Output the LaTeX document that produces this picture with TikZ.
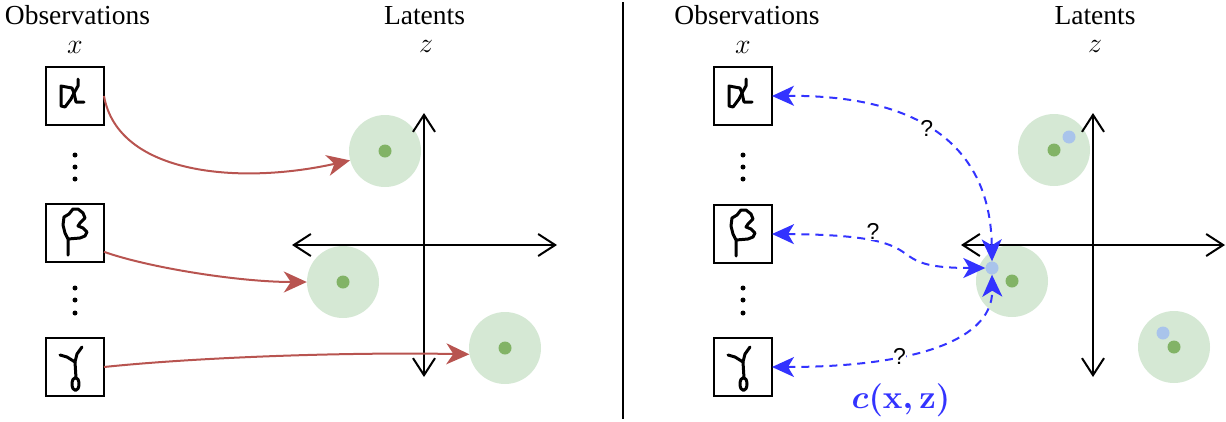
\RequirePackage{fix-cm}
\documentclass[tikz,border=0pt]{standalone}
\usepackage{amsmath}
\usepackage[no-math]{fontspec}
\setmainfont{Liberation Serif}
\newfontfamily\qfont{Liberation Sans}
\usetikzlibrary{arrows.meta}
\definecolor{lgreen}{HTML}{D5E8D4}
\definecolor{dgreen}{HTML}{82B366}
\definecolor{lblue}{HTML}{A9C4EB}
\definecolor{redarr}{HTML}{B85450}
\definecolor{bluearr}{HTML}{3333FF}
\tikzset{
  title/.style={font=\fontsize{27.5}{32}\selectfont, anchor=base, inner sep=0pt},
  mathlab/.style={font=\fontsize{28}{32}\selectfont, anchor=base, inner sep=0pt},
  obsbox/.style={draw, line width=2pt, minimum size=58pt, inner sep=0pt, outer sep=0pt},
  blob/.style={circle, fill=lgreen, minimum size=72pt, inner sep=0pt},
  mu/.style={circle, fill=dgreen, minimum size=13pt, inner sep=0pt},
  smp/.style={circle, fill=lblue, minimum size=13pt, inner sep=0pt},
  vdot/.style={circle, fill=black, minimum size=5pt, inner sep=0pt},
  axisline/.style={line width=2pt, {Straight Barb[length=17pt,width=22pt]}-{Straight Barb[length=17pt,width=22pt]}},
  redarrow/.style={draw=redarr, line width=2pt, -{Stealth[length=23pt,width=21pt,inset=7pt]}, color=redarr},
  bluearrow/.style={draw=bluearr, color=bluearr, line width=2pt, dash pattern=on 8pt off 6pt,
     {Stealth[length=22pt,width=20pt,inset=6pt]}-{Stealth[length=22pt,width=20pt,inset=6pt]}},
  qlab/.style={font=\qfont\fontsize{23}{26}\selectfont, fill=white, inner sep=0.5pt, text=black},
  glyph/.style={line width=3pt, line cap=round, line join=round},
  alphaglyph/.pic={
    \draw[glyph] (-3,-8)--(-14,-10)--(-14,10)--(-10,11)--(-4,3)--(-1,-3)--(3,-10)--(3,-17);
    \draw[glyph] (-1,-3)--(1,6)--(9,6);
    \draw[glyph] (-3,-8)--(-1,-3);
  },
  betaglyph/.pic={
    \draw[glyph] (-7,22)--(-7,6)--(-10,0)--(-12,-8)--(-11,-16)--(-6,-19)--(-2,-24)--(3,-24)--(8,-20)--(10,-15)--(5,-10)--(3,-7)--(8,-5)--(12,-1)--(10,3)--(5,5)--(-7,6);
  },
  gammaglyph/.pic={
    \draw[glyph] (-15,-12)--(-8,-10)--(0,-5);
    \draw[glyph] (7,-20)--(2,-13)--(0,-5)--(1,11);
    \draw[glyph] (0.5,17) ellipse [x radius=3.5pt, y radius=6.5pt];
  },
}
\begin{document}
\begin{tikzpicture}[x=1pt,y=-1pt]
\useasboundingbox (0,0) rectangle (1226,421);

% ---------------- left panel ----------------
\node[title] (obsL) at (77.5,24) {Observations};
\node[title] (latL) at (424.5,24) {Latents};
\node[mathlab] (xL) at (75,53) {$x$};
\node[mathlab] (zL) at (426,52) {$z$};

\node[obsbox] (b1L) at (75,96) {};
\node[obsbox] (b2L) at (75,233) {};
\node[obsbox] (b3L) at (75,367) {};
\pic at (b1L.center) {alphaglyph};
\pic at (b2L.center) {betaglyph};
\pic at (b3L.center) {gammaglyph};

\node[vdot] (d1L) at (75,155) {};
\node[vdot] (d2L) at (75,167) {};
\node[vdot] (d3L) at (75,179) {};
\node[vdot] (d4L) at (75,288) {};
\node[vdot] (d5L) at (75,300) {};
\node[vdot] (d6L) at (75,313) {};

\node[blob] (c1L) at (385,151) {};
\node[blob] (c2L) at (343,282) {};
\node[blob] (c3L) at (505,348) {};
\node[mu] (m1L) at (385,151) {};
\node[mu] (m2L) at (343,282) {};
\node[mu] (m3L) at (505,348) {};

\coordinate (axLl) at (292,245);
\coordinate (axLr) at (557,245);
\coordinate (axLt) at (424,113);
\coordinate (axLb) at (424,377);
\draw[axisline] (axLl) -- (axLr);
\draw[axisline] (axLt) -- (axLb);

\draw[redarrow] (b1L.east) .. controls (118,175) and (240,185) .. (c1L.195);
\draw[redarrow] (b2L.-33) .. controls (150,268) and (240,282) .. (c2L.west);
\draw[redarrow] (b3L.east) .. controls (200,357) and (350,352) .. (c3L.190);

% divider
\coordinate (dtop) at (623,2);
\coordinate (dbot) at (623,419);
\draw[line width=2pt] (dtop) -- (dbot);

% ---------------- right panel ----------------
\node[title] (obsR) at (747,24) {Observations};
\node[title] (latR) at (1095,24) {Latents};
\node[mathlab] (xR) at (743,53) {$x$};
\node[mathlab] (zR) at (1095,52) {$z$};

\node[obsbox] (b1R) at (743,96) {};
\node[obsbox] (b2R) at (743,234) {};
\node[obsbox] (b3R) at (743,367) {};
\pic at (b1R.center) {alphaglyph};
\pic at (b2R.center) {betaglyph};
\pic at (b3R.center) {gammaglyph};

\node[vdot] (d1R) at (743,155) {};
\node[vdot] (d2R) at (743,167) {};
\node[vdot] (d3R) at (743,179) {};
\node[vdot] (d4R) at (743,288) {};
\node[vdot] (d5R) at (743,300) {};
\node[vdot] (d6R) at (743,313) {};

\node[blob] (c1R) at (1054,150) {};
\node[blob] (c2R) at (1012,281) {};
\node[blob] (c3R) at (1174,347) {};
\node[mu] (m1R) at (1054,150) {};
\node[mu] (m2R) at (1012,281) {};
\node[mu] (m3R) at (1174,347) {};
\node[smp] (s1R) at (1069,137) {};
\node[smp] (s2R) at (992,268) {};
\node[smp] (s3R) at (1163,333) {};

\coordinate (axRl) at (961,245);
\coordinate (axRr) at (1225,245);
\coordinate (axRt) at (1093,113);
\coordinate (axRb) at (1093,377);
\draw[axisline] (axRl) -- (axRr);
\draw[axisline] (axRt) -- (axRb);

\draw[bluearrow] (b1R.east) .. controls (880,95) and (990,120) .. (s2R.north)
   node[qlab, pos=0.52] (q1) {?};
\draw[bluearrow] (b2R.east) .. controls (950,235) and (870,268) .. (s2R.west);
\node[qlab] (q2) at (873,231) {?};
\draw[bluearrow] (b3R.east) .. controls (900,367) and (993,345) .. (s2R.south)
   node[qlab, pos=0.38] (q3) {?};

\node[text=bluearr, font=\fontsize{33}{38}\selectfont\boldmath, inner sep=0pt] (cxz) at (901,400) {$c(\mathbf{x},\mathbf{z})$};
\end{tikzpicture}
\end{document}
